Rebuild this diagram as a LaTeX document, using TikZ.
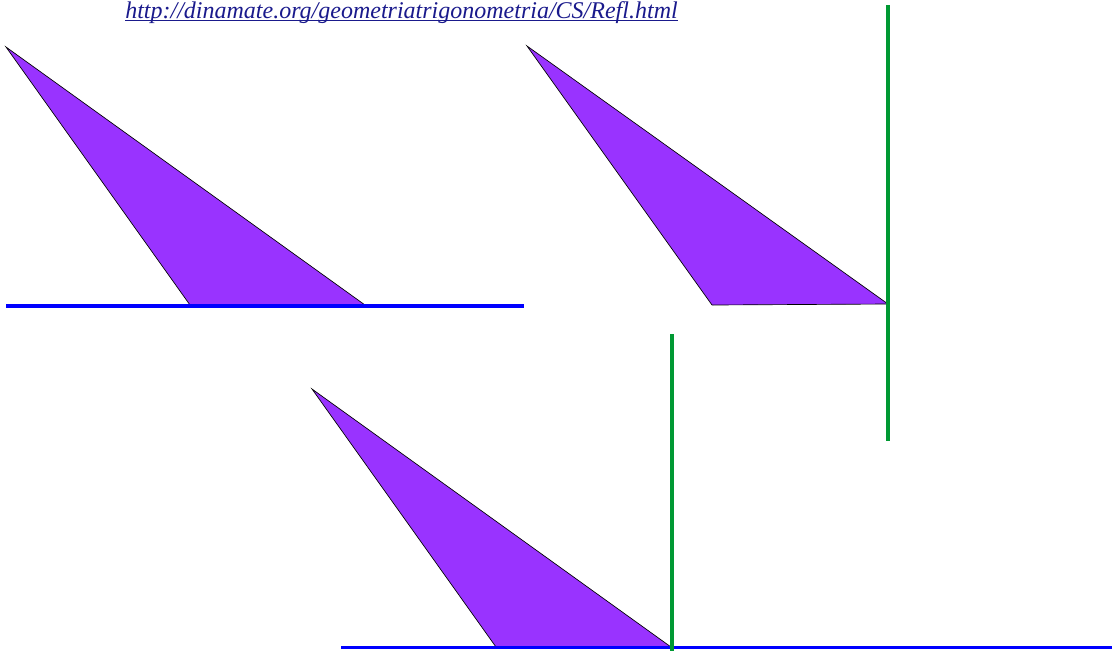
\documentclass[tikz,border=0pt]{standalone}
\usepackage{fontspec}
\setmainfont{Liberation Serif}
\definecolor{tri}{HTML}{9933FF}
\definecolor{lineblue}{HTML}{0000FF}
\definecolor{linegreen}{HTML}{009933}
\definecolor{urlblue}{HTML}{1A1A8C}
\begin{document}
\begin{tikzpicture}[x=0.75pt,y=-0.75pt,
  trifill/.style={fill=tri,draw=black,line width=0.5pt,line join=miter},
  bluel/.style={draw=lineblue,line width=2.6pt},
  greenl/.style={draw=linegreen,line width=2.6pt}]
\useasboundingbox (0,0) rectangle (1112,651);
% URL
\node[anchor=base west,inner sep=0pt,text=urlblue,font=\fontsize{18}{21}\selectfont\itshape] (url) at (125,18) {http://dinamate.org/geometriatrigonometria/CS/Refl.html};
\draw[urlblue,line width=0.8pt] ([yshift=-2.2pt]url.base west) -- ([yshift=-2.2pt]url.base east);
% panel 1
\filldraw[trifill] (6,47) -- (190,305) -- (365,305) -- cycle;
\draw[bluel] (6,306) -- (524,306);
% panel 2
\filldraw[trifill] (527,46) -- (712,305) -- (888,304) -- cycle;
\draw[greenl] (888,5) -- (888,441);
% panel 3
\filldraw[trifill] (312,389) -- (496,647) -- (671,647) -- cycle;
\draw[bluel] (341,647.5) -- (1112,647.5);
\draw[greenl] (672,334) -- (672,651);
\end{tikzpicture}
\end{document}
